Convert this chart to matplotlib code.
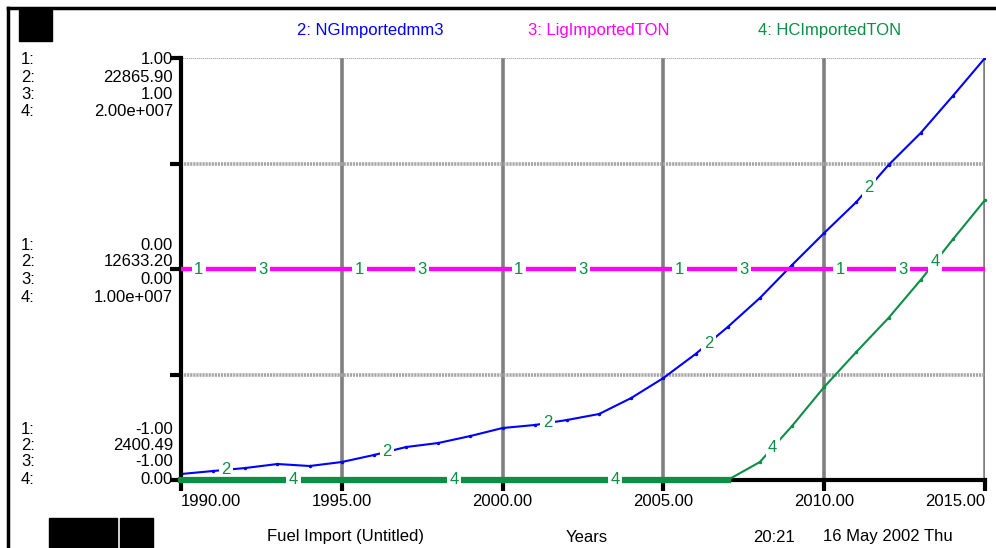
import numpy as np
import matplotlib.pyplot as plt
from matplotlib.patches import Rectangle
from matplotlib.lines import Line2D

plt.rcParams['font.family'] = ['Liberation Sans', 'DejaVu Sans']

# data (yearly)
years = np.arange(1990, 2016)
ng_imported = [2691, 2837, 2982, 3176, 3079, 3273, 3613, 4000, 4195, 4534,
               4922, 5068, 5310, 5601, 6377, 7347, 8511, 9821, 11227, 12828,
               14380, 15883, 17678, 19230, 21025, 22866]
hc_imported = [0, 0, 0, 0, 0, 0, 0, 0, 0, 0,
               0, 0, 0, 0, 0, 0, 0, 0, 853000, 2560000,
               4410000, 6070000, 7680000, 9480000, 11400000, 13270000]
lig_imported = [0.0] * len(years)
series1 = [0.0] * len(years)

# axis scales shown at left
scale_lo = {'1': -1.0, '2': 2400.49, '3': -1.0, '4': 0.0}
scale_hi = {'1': 1.0, '2': 22865.90, '3': 1.0, '4': 2.0e7}
top_labels = ['1.00', '22865.90', '1.00', '2.00e+007']
mid_labels = ['0.00', '12633.20', '0.00', '1.00e+007']
bot_labels = ['-1.00', '2400.49', '-1.00', '0.00']
xtick_labels = ['1990.00', '1995.00', '2000.00', '2005.00', '2010.00', '2015.00']

# where the curve numbers sit (years)
lab1_x = [1990.55, 1995.55, 2000.5, 2005.5, 2010.5]
lab3_x = [1992.55, 1997.5, 2002.5, 2007.5, 2012.45]
lab2_x = [1991.4, 1996.4, 2001.4, 2006.4, 2011.4]
lab4_x = [1993.5, 1998.5, 2003.5, 2008.4, 2013.45]

W, H = 996, 548
BLUE = '#0000ff'
MAG = '#ff00ff'
GREEN = '#0a8f45'
FS = 12


def fx(x):
    return x / W


def fy(y):
    return 1 - y / H


fig = plt.figure(figsize=(W / 100, H / 100), dpi=100)
ax = fig.add_axes([fx(181), fy(480), (985 - 181) / W, (480 - 58) / H])
ax.set_xlim(1990, 2015)
ax.set_ylim(scale_lo['2'], scale_hi['2'])

ax_lig = ax.twinx()
ax_lig.set_ylim(scale_lo['3'], scale_hi['3'])
ax_hc = ax.twinx()
ax_hc.set_ylim(scale_lo['4'], scale_hi['4'])
for a in (ax_lig, ax_hc):
    a.axis('off')

# grid
for yr in [1995, 2000, 2005, 2010, 2015]:
    ax.axvline(yr, color='#808080', lw=2.6, zorder=1)
for q in [0.25, 0.5, 0.75]:
    ax.axhline(scale_lo['2'] + q * (scale_hi['2'] - scale_lo['2']),
               color='#a6a6a6', lw=2.6, ls=(0, (0.6, 0.25)), zorder=1)
ax.axhline(scale_hi['2'], color='#a0a0a0', lw=1.2, ls=(0, (0.8, 0.4)), zorder=1)

# spines and ticks
for s in ['top', 'right']:
    ax.spines[s].set_visible(False)
for s in ['left', 'bottom']:
    ax.spines[s].set_linewidth(3)
    ax.spines[s].set_zorder(6)
ax.set_yticks(np.linspace(scale_lo['2'], scale_hi['2'], 5))
ax.set_yticklabels([])
ax.set_xticks([1990, 1995, 2000, 2005, 2010, 2015])
ax.set_xticklabels(xtick_labels, fontsize=FS)
ax.tick_params(axis='both', direction='out', length=8, width=3, pad=2)
tl = ax.get_xticklabels()
tl[0].set_ha('left')
tl[-1].set_ha('right')
ax.patch.set_alpha(0)

# curves
ax_lig.plot(years, series1, color='#ff0000', lw=3, zorder=2)
ax_lig.plot(years, lig_imported, color=MAG, lw=3, zorder=3)
ax.plot(years, ng_imported, color=BLUE, lw=1.5, marker='o', ms=1.5, zorder=3)
ax_hc.plot(years, hc_imported, color=GREEN, lw=1.5, marker='o', ms=1.5, zorder=3,
           clip_on=False)
zero_part = [i for i, v in enumerate(hc_imported) if v == 0]
ax_hc.plot(years[zero_part], np.array(hc_imported)[zero_part],
           color=GREEN, lw=4.5, zorder=3, clip_on=False)

box = dict(boxstyle='square,pad=0.15', fc='white', ec='none')


def put_labels(a, xs, ys, txt):
    for x in xs:
        a.text(x, np.interp(x, years, ys), txt, color=GREEN, fontsize=FS,
               ha='center', va='center', bbox=box, zorder=5)


put_labels(ax_lig, lab1_x, series1, '1')
put_labels(ax_lig, lab3_x, lig_imported, '3')
put_labels(ax, lab2_x, ng_imported, '2')
put_labels(ax_hc, lab4_x, hc_imported, '4')

# scale block at left
for labels, ys in [(top_labels, [60, 77, 94, 111]),
                   (mid_labels, [245, 262, 280, 297]),
                   (bot_labels, [429, 446, 462, 479])]:
    for i, (lab, y) in enumerate(zip(labels, ys)):
        fig.text(fx(21), fy(y), f'{i + 1}:', fontsize=FS, va='center', ha='left')
        fig.text(fx(173), fy(y), lab, fontsize=FS, va='center', ha='right')

# legend
fig.text(fx(297), fy(31), '2: NGImportedmm3', color=BLUE, fontsize=FS, va='center')
fig.text(fx(528), fy(31), '3: LigImportedTON', color=MAG, fontsize=FS, va='center')
fig.text(fx(758), fy(31), '4: HCImportedTON', color=GREEN, fontsize=FS, va='center')

# footer
fig.text(fx(267), fy(537), 'Fuel Import (Untitled)', fontsize=FS, va='center')
fig.text(fx(566), fy(537), 'Years', fontsize=FS, va='center')
fig.text(fx(753), fy(537), '20:21', fontsize=FS, va='center')
fig.text(fx(823), fy(537), '16 May 2002 Thu', fontsize=FS, va='center')

# frame and black boxes
fig.add_artist(Line2D([fx(8), fx(8)], [fy(8), 0], color='black', lw=2.5,
                      transform=fig.transFigure))
fig.add_artist(Line2D([fx(8), 1], [fy(8), fy(8)], color='black', lw=2.5,
                      transform=fig.transFigure))
for x0, y0, x1, y1 in [(19, 10, 52, 41), (49, 518, 117, 548), (120, 518, 153, 548)]:
    fig.add_artist(Rectangle((fx(x0), fy(y1)), (x1 - x0) / W, (y1 - y0) / H,
                             color='black', transform=fig.transFigure))

fig.savefig('out.png', dpi=100)
